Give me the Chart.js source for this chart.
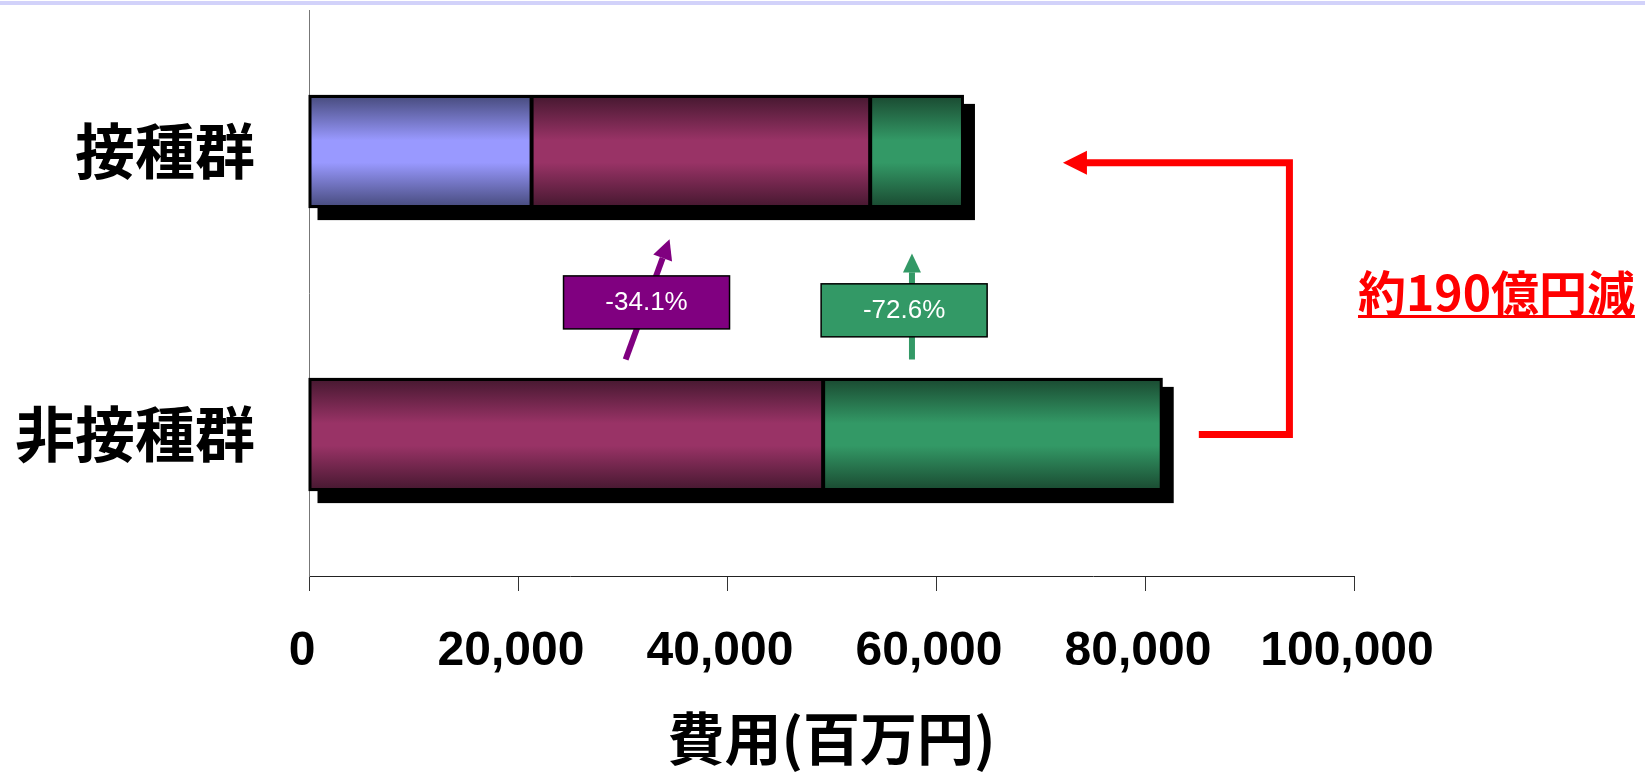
<!DOCTYPE html>
<html lang="ja">
<head>
<meta charset="utf-8">
<title>費用比較</title>
<script src="https://cdn.jsdelivr.net/npm/chart.js@4.4.0/dist/chart.umd.min.js"></script>
<style>
    html, body { margin: 0; padding: 0; background: #fff; }
    #wrap { position: relative; width: 1645px; height: 773px; }
</style>
</head>
<body>
<div id="wrap"><canvas id="costChart" width="1645" height="773"></canvas></div>
<script>
// groups on the category axis
const categories = ['接種群', '非接種群'];
// cost components (百万円)
const vaccineCost = [21300, null];
const medicalCost = [32400, 49200];
const otherCost = [8880, 32400];
// x axis
const xTicks = [0, 20000, 40000, 60000, 80000, 100000];
const xTitle = '費用(百万円)';

const BAR_PCT = 0.393;
const cjkFont = '"Noto Sans CJK JP", "Noto Sans CJK SC", sans-serif';
const latinFont = '"Liberation Sans", Arial, sans-serif';

function pctChange(now, before) {
    return ((now - before) / before * 100).toFixed(1) + '%';
}
function total(i) {
    return (vaccineCost[i] || 0) + (medicalCost[i] || 0) + (otherCost[i] || 0);
}
// 百万円 -> 億円
const savedOku = Math.round((total(1) - total(0)) / 100);

// vertical shading: dark edges, light middle
function barFill(light, dark) {
    return function (ctx) {
        const chart = ctx.chart;
        const yScale = chart.scales.y;
        if (!chart.chartArea || !yScale || ctx.dataIndex === undefined) return light;
        const band = Math.abs(yScale.getPixelForValue(1) - yScale.getPixelForValue(0));
        const half = band * BAR_PCT / 2;
        const cy = yScale.getPixelForValue(ctx.dataIndex);
        const g = chart.ctx.createLinearGradient(0, cy - half, 0, cy + half);
        g.addColorStop(0, dark);
        g.addColorStop(0.4, light);
        g.addColorStop(0.6, light);
        g.addColorStop(1, dark);
        return g;
    };
}

function drawArrow(ctx, x1, y1, x2, y2, color, width, headLen, headHalf) {
    const ang = Math.atan2(y2 - y1, x2 - x1);
    const bx = x2 - headLen * Math.cos(ang);
    const by = y2 - headLen * Math.sin(ang);
    ctx.strokeStyle = color;
    ctx.lineWidth = width;
    ctx.beginPath();
    ctx.moveTo(x1, y1);
    ctx.lineTo(bx, by);
    ctx.stroke();
    ctx.fillStyle = color;
    ctx.beginPath();
    ctx.moveTo(x2, y2);
    ctx.lineTo(bx + headHalf * Math.sin(ang), by - headHalf * Math.cos(ang));
    ctx.lineTo(bx - headHalf * Math.sin(ang), by + headHalf * Math.cos(ang));
    ctx.closePath();
    ctx.fill();
}

// black outline + drop shadow behind each stacked bar
const barShadow = {
    id: 'barShadow',
    beforeDraw(chart) {
        const ctx = chart.ctx;
        ctx.save();
        ctx.fillStyle = '#d2d2fa';
        ctx.fillRect(0, 1, chart.width, 4);
        ctx.restore();
    },
    beforeDatasetsDraw(chart) {
        const ctx = chart.ctx;
        ctx.save();
        ctx.fillStyle = '#000';
        categories.forEach(function (c, i) {
            let left = Infinity, right = -Infinity, top = 0, bottom = 0;
            chart.data.datasets.forEach(function (ds, di) {
                const el = chart.getDatasetMeta(di).data[i];
                if (!el || ds.data[i] == null) return;
                const p = el.getProps(['x', 'y', 'base', 'height'], true);
                left = Math.min(left, p.base, p.x);
                right = Math.max(right, p.base, p.x);
                top = p.y - p.height / 2;
                bottom = p.y + p.height / 2;
            });
            ctx.fillRect(left + 8, top + 8, right - left + 4, bottom - top + 5);
            ctx.fillRect(left - 1, top - 1, right - left + 2, bottom - top + 2);
        });
        ctx.restore();
    }
};

// change arrows, their labels and the saving bracket
const notes = {
    id: 'notes',
    afterDatasetsDraw(chart) {
        const ctx = chart.ctx;
        const x = chart.scales.x, y = chart.scales.y;
        ctx.save();

        drawArrow(ctx, x.getPixelForValue(30300), y.getPixelForValue(0.735),
            x.getPixelForValue(34500), y.getPixelForValue(0.31), '#800080', 6, 20, 10);
        drawArrow(ctx, x.getPixelForValue(57700), y.getPixelForValue(0.735),
            x.getPixelForValue(57700), y.getPixelForValue(0.36), '#339966', 6, 19, 9);

        const boxes = [
            { v: 32300, c: 0.535, fill: '#800080', text: pctChange(medicalCost[0], medicalCost[1]) },
            { v: 56950, c: 0.563, fill: '#339966', text: pctChange(otherCost[0], otherCost[1]) }
        ];
        boxes.forEach(function (b) {
            const cx = x.getPixelForValue(b.v), cy = y.getPixelForValue(b.c);
            ctx.fillStyle = b.fill;
            ctx.fillRect(cx - 83, cy - 27, 166, 53);
            ctx.strokeStyle = '#000';
            ctx.lineWidth = 1.5;
            ctx.strokeRect(cx - 83, cy - 27, 166, 53);
            ctx.fillStyle = '#fff';
            ctx.font = '26px ' + latinFont;
            ctx.textAlign = 'center';
            ctx.textBaseline = 'middle';
            ctx.fillText(b.text, cx, cy);
        });

        // bracket from the non-vaccinated bar up to the vaccinated bar
        const xs = x.getPixelForValue(85150), xr = x.getPixelForValue(93820);
        const yb = y.getPixelForValue(1), yt = y.getPixelForValue(0.04);
        const tip = x.getPixelForValue(72150);
        ctx.strokeStyle = '#ff0000';
        ctx.lineWidth = 7;
        ctx.lineJoin = 'miter';
        ctx.beginPath();
        ctx.moveTo(xs, yb);
        ctx.lineTo(xr, yb);
        ctx.lineTo(xr, yt);
        ctx.lineTo(tip + 22, yt);
        ctx.stroke();
        drawArrow(ctx, tip + 24, yt, tip, yt, '#ff0000', 7, 24, 12);

        const label = '約' + savedOku + '億円減';
        const lx = x.getPixelForValue(100000) + 4, ly = y.getPixelForValue(0.5);
        ctx.font = 'bold 48px ' + cjkFont;
        ctx.fillStyle = '#ff0000';
        ctx.textAlign = 'left';
        ctx.textBaseline = 'middle';
        ctx.fillText(label, lx, ly);
        const w = ctx.measureText(label).width;
        ctx.fillRect(lx, ly + 22, w, 3);

        ctx.restore();
    }
};

new Chart(document.getElementById('costChart'), {
    type: 'bar',
    data: {
        labels: categories,
        datasets: [{
            label: 'ワクチン',
            data: vaccineCost,
            backgroundColor: barFill('#9999ff', '#474b7d'),
        }, {
            label: '医療費',
            data: medicalCost,
            backgroundColor: barFill('#993366', '#461830'),
        }, {
            label: 'その他',
            data: otherCost,
            backgroundColor: barFill('#339966', '#1a4a31'),
        }]
    },
    options: {
        indexAxis: 'y',
        responsive: false,
        animation: false,
        devicePixelRatio: 1,
        layout: {
            padding: { top: 10, right: 291, left: 0, bottom: 0 }
        },
        datasets: {
            bar: {
                borderColor: '#000',
                borderWidth: 2,
                borderSkipped: false,
                categoryPercentage: 1,
                barPercentage: BAR_PCT,
                stack: 'cost'
            }
        },
        plugins: {
            legend: { display: false },
            tooltip: { enabled: false }
        },
        scales: {
            x: {
                stacked: true,
                min: 0,
                max: 100000,
                afterBuildTicks: function (scale) {
                    scale.ticks = xTicks.map(function (v) { return { value: v }; });
                },
                afterFit: function (scale) { scale.height = 197; },
                grid: {
                    drawOnChartArea: false,
                    tickLength: 15,
                    color: '#333'
                },
                border: { color: '#222', width: 1 },
                ticks: {
                    color: '#000',
                    padding: 32,
                    labelOffset: -7,
                    font: { family: latinFont, size: 48, weight: 'bold' },
                    callback: function (v) { return v.toLocaleString('en-US'); }
                },
                title: {
                    display: true,
                    text: xTitle,
                    color: '#000',
                    padding: 0,
                    font: { family: cjkFont, size: 57, weight: 'bold' }
                }
            },
            y: {
                stacked: true,
                afterFit: function (scale) {
                    scale.width = 309;
                    scale.paddingTop = 0;
                    scale.paddingBottom = 0;
                },
                grid: { display: false, drawTicks: false },
                border: { color: '#777', width: 1 },
                ticks: {
                    color: '#000',
                    padding: 54,
                    font: { family: cjkFont, size: 60, weight: 'bold' }
                }
            }
        }
    },
    plugins: [barShadow, notes]
});
</script>
</body>
</html>
